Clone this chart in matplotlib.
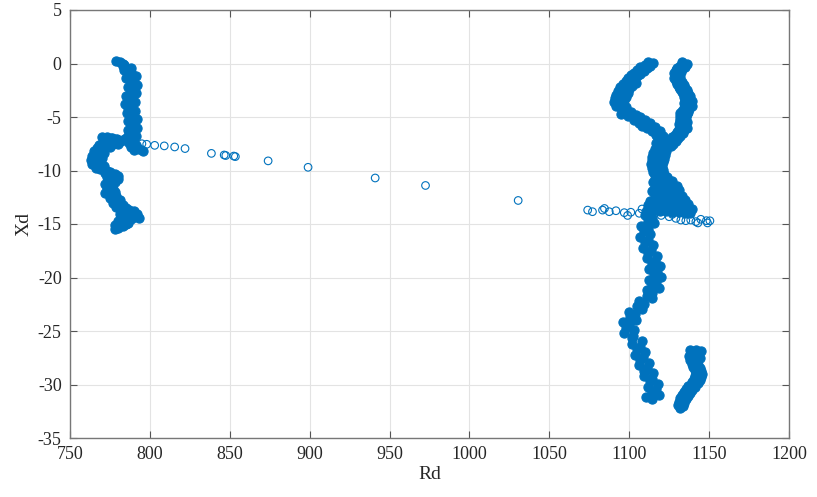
import matplotlib.pyplot as plt

plt.rcParams['font.family'] = ['Liberation Serif', 'DejaVu Serif']
plt.rcParams['axes.unicode_minus'] = False

# (Rd, Xd) samples, grouped by region of the trajectory
left_upper = [
    (779, 0.2), (781, 0.1), (783, 0.0), (784, -0.1), (783, -0.2), (788, -0.4),
    (783.5, -0.6), (788, -0.8), (787, -1.0), (791, -1.2), (785.3, -1.4),
    (789.5, -1.6), (788, -1.8), (792, -2.0), (786, -2.2), (790, -2.4),
    (788, -2.6), (791, -2.8), (785, -3.0), (789, -3.2), (787, -3.4),
    (790.5, -3.6), (784.5, -3.8), (788, -4.0), (786.5, -4.2), (790.5, -4.4),
    (785.5, -4.6), (789.5, -4.8), (788, -5.0), (792, -5.2), (786, -5.4),
    (790, -5.6), (788, -5.8), (792, -6.0), (786, -6.2), (790, -6.4),
    (787, -6.6), (791, -6.8), (785, -7.0), (789, -7.2), (787, -7.4),
    (791, -7.6), (788, -7.8), (793, -8.0), (790, -8.1), (796, -8.2),
]

left_lower = [
    (770, -6.9), (773, -6.9), (776, -7.0), (779, -7.1), (782, -7.2),
    (771, -7.3), (774, -7.4), (777, -7.5), (780, -7.5), (768, -7.6),
    (772, -7.7), (775, -7.8), (767, -7.9), (770, -8.0), (765, -8.2),
    (768, -8.3), (771, -8.4), (764, -8.6), (767, -8.7), (770, -8.8),
    (763, -9.0), (766, -9.1), (769, -9.2), (764, -9.4), (767, -9.5),
    (771, -9.6), (766, -9.8), (769, -9.9), (773, -10.0), (775, -10.1),
    (772, -10.2), (778, -10.3), (776, -10.5), (780, -10.5), (773, -10.6),
    (777, -10.7), (780, -10.8), (775, -11.0), (778, -11.1), (772, -11.3),
    (776, -11.4), (773, -11.6), (777, -11.7), (774, -11.9), (778, -12.0),
    (772, -12.1), (776, -12.3), (779, -12.4), (775, -12.6), (778, -12.7),
    (781, -12.8), (777, -13.0), (780, -13.1), (783, -13.2), (779, -13.4),
    (782, -13.5), (785, -13.5), (787, -13.7), (790, -13.8), (784, -13.9),
    (788, -14.0), (792, -14.1), (781, -14.1), (786, -14.2), (790, -14.3),
    (793, -14.4), (783, -14.4), (788, -14.5), (780, -14.7), (784, -14.7),
    (786, -14.9), (781, -15.0), (778, -15.1), (783, -15.2), (780, -15.4),
    (785, -15.0), (778, -15.5),
]

bridge = [
    (776, -6.95), (780, -7.05), (783.5, -7.1), (787, -7.2), (790.5, -7.3),
    (795, -7.5), (798, -7.55), (803, -7.65), (809, -7.7), (815.5, -7.8),
    (822, -7.95), (838.5, -8.4), (846.5, -8.55), (847.5, -8.6),
    (852.5, -8.65), (853.5, -8.7), (874, -9.1), (899, -9.7), (941, -10.7),
    (972.5, -11.4), (1030.5, -12.8), (1074, -13.7),
]

right_v_left = [
    (1112, 0.15), (1115, 0.05), (1110, -0.1), (1113, -0.25), (1107, -0.35),
    (1111, -0.45), (1105, -0.6), (1109, -0.7), (1103, -0.85), (1107, -0.95),
    (1101, -1.1), (1105, -1.2), (1099, -1.35), (1103, -1.45), (1098, -1.6),
    (1101, -1.7), (1104, -1.8), (1096, -1.9), (1099.5, -2.0), (1102, -2.1),
    (1094, -2.2), (1097, -2.3), (1100, -2.4), (1093, -2.55), (1096, -2.65),
    (1099, -2.75), (1092, -2.9), (1095, -3.0), (1098, -3.1), (1091, -3.25),
    (1094, -3.35), (1097, -3.45), (1090.5, -3.6), (1093, -3.7), (1096, -3.8),
    (1091.5, -3.95), (1094.5, -4.05), (1098, -4.1), (1095, -4.7),
    (1097, -4.2), (1099, -4.9), (1101, -4.5), (1103, -5.3), (1104, -4.8),
    (1106, -5.6), (1107, -5.0), (1108, -5.8), (1110, -5.3), (1111, -6.0),
    (1113, -5.6), (1114, -6.3), (1116, -5.9), (1116.5, -6.7), (1119, -6.3),
    (1118, -7.0), (1121, -6.8), (1117, -7.4), (1120, -7.4), (1122, -7.6),
    (1118, -7.9), (1121, -8.1),
]

right_v_right = [
    (1133, 0.1), (1136, 0.0), (1132, -0.2), (1135, -0.3), (1130, -0.4),
    (1133, -0.5), (1129, -0.65), (1132.5, -0.75), (1128, -0.9), (1131, -1.0),
    (1129, -1.15), (1132, -1.25), (1128, -1.4), (1131.5, -1.5),
    (1129.5, -1.65), (1133, -1.75), (1130, -1.9), (1134, -2.0),
    (1131, -2.15), (1135, -2.25), (1132, -2.4), (1136, -2.5), (1133, -2.65),
    (1137, -2.75), (1134, -2.9), (1138, -3.0), (1134, -3.15),
    (1137.5, -3.25), (1135, -3.4), (1139, -3.5), (1134.5, -3.65),
    (1138, -3.75), (1135, -3.9), (1139, -4.0), (1134, -4.15),
    (1137.5, -4.25), (1133, -4.4), (1137, -4.5), (1132, -4.65),
    (1136, -4.75), (1132, -4.9), (1135.5, -5.0), (1131.5, -5.15),
    (1135, -5.25), (1132, -5.4), (1136, -5.5), (1131, -5.65), (1135, -5.75),
    (1132, -5.9), (1136, -6.0), (1131, -6.15), (1134.5, -6.25), (1130, -6.4),
    (1133.5, -6.5), (1128.5, -6.65), (1132, -6.75), (1127, -6.9),
    (1130.5, -7.0), (1126, -7.15), (1129, -7.25), (1124.5, -7.4),
    (1127.5, -7.5), (1123, -7.65), (1126, -7.75),
]

right_middle = [
    (1116, -8.0), (1120, -8.1), (1123, -8.2), (1115, -8.35), (1119, -8.45),
    (1122.5, -8.55), (1114.5, -8.7), (1118, -8.8), (1122, -8.9),
    (1114, -9.05), (1117.5, -9.15), (1121, -9.25), (1113.5, -9.4),
    (1117, -9.5), (1120.5, -9.6), (1114, -9.75), (1117.5, -9.85),
    (1121, -9.95), (1115, -10.1), (1118.5, -10.2), (1122, -10.3),
    (1116, -10.45), (1120, -10.55), (1123.5, -10.65),
    (1116, -10.8), (1120, -10.85), (1124, -10.9), (1127, -11.0),
    (1115, -11.1), (1119, -11.2), (1123, -11.25), (1127, -11.35),
    (1130, -11.45), (1116, -11.55), (1120, -11.6), (1124, -11.7),
    (1128, -11.75), (1131, -11.85), (1114.5, -11.95), (1118, -12.0),
    (1122, -12.1), (1126, -12.15), (1130, -12.25), (1133, -12.35),
    (1116, -12.45), (1120, -12.5), (1124, -12.55), (1128, -12.6),
    (1132, -12.7), (1135, -12.75),
    (1113, -12.85), (1117, -12.9), (1121, -12.95), (1125, -13.0),
    (1129, -13.05), (1133, -13.1), (1137, -13.15), (1112, -13.25),
    (1116, -13.3), (1120, -13.35), (1124, -13.4), (1128, -13.45),
    (1132, -13.5), (1136, -13.55), (1139, -13.6), (1111, -13.7),
    (1115, -13.75), (1119, -13.8), (1123, -13.8), (1127, -13.85),
    (1131, -13.9), (1135, -13.95), (1138, -14.0),
]

right_tails = [
    (1077, -13.85), (1083.3, -13.7), (1084.5, -13.55), (1087.5, -13.85),
    (1091.7, -13.76), (1096.9, -13.94), (1099, -14.2), (1101, -13.9),
    (1106.3, -14.0), (1108, -13.6), (1110.4, -13.85),
    (1120, -14.2), (1125, -14.32), (1127, -14.1), (1129.2, -14.47),
    (1132.3, -14.63), (1135.4, -14.69), (1138.5, -14.63), (1141.7, -14.78),
    (1143, -14.9), (1144.8, -14.56), (1148.3, -14.69), (1149, -14.9),
    (1150.5, -14.7),
]

right_lower = [
    (1110, -14.2), (1114, -14.45), (1111.5, -14.7), (1115.5, -14.95),
    (1107.5, -15.2), (1111.5, -15.45), (1109, -15.7), (1113, -15.95),
    (1106.5, -16.2), (1111.5, -16.45), (1110, -16.7), (1115, -16.95),
    (1108.5, -17.2), (1113.5, -17.45), (1112, -17.7), (1117.5, -17.95),
    (1111, -18.2), (1116, -18.45), (1114.5, -18.7), (1119.5, -18.95),
    (1112.5, -19.2), (1117.5, -19.45), (1115.5, -19.7), (1120, -19.95),
    (1112.5, -20.2), (1117, -20.45), (1114.5, -20.7), (1118.5, -20.95),
    (1111, -21.2), (1114.5, -21.45), (1111, -21.7), (1114.5, -21.95),
    (1106, -22.2), (1109, -22.45), (1105, -22.7), (1108, -22.95),
    (1100, -23.2), (1103.5, -23.45), (1100.5, -23.7), (1104, -23.95),
    (1096, -24.2), (1100, -24.45), (1098, -24.7), (1103, -24.95),
    (1096.5, -25.2), (1102.5, -25.45), (1102, -25.7), (1108, -25.95),
    (1101.5, -26.2), (1106.5, -26.45), (1105, -26.7), (1110, -26.95),
    (1103.5, -27.2), (1108.5, -27.45), (1107, -27.7), (1112.5, -27.95),
    (1106, -28.2), (1111, -28.45), (1109.5, -28.7), (1115, -28.95),
    (1109, -29.2), (1114, -29.45), (1113, -29.7), (1118, -29.95),
    (1111.5, -30.2), (1116.5, -30.45), (1114.5, -30.7), (1118.5, -30.95),
    (1110.5, -31.2), (1114.5, -31.4),
]

right_small = [
    (1138, -26.75), (1142, -26.8), (1145, -26.85), (1139, -27.05),
    (1143, -27.15), (1137.5, -27.35), (1141, -27.45), (1144, -27.55),
    (1138, -27.75), (1142, -27.85), (1139, -28.05), (1143, -28.15),
    (1140, -28.35), (1144, -28.45), (1141, -28.6), (1145, -28.7),
    (1141.5, -28.9), (1145.5, -29.0), (1141, -29.2), (1145, -29.3),
    (1140.5, -29.5), (1144.5, -29.6), (1139, -29.8), (1143, -29.9),
    (1137, -30.1), (1141, -30.2), (1135.5, -30.4), (1139.5, -30.5),
    (1134, -30.7), (1138, -30.8), (1133, -31.0), (1136.5, -31.1),
    (1132, -31.3), (1135.5, -31.4), (1131, -31.6), (1134.5, -31.7),
    (1130.5, -31.9), (1133.5, -32.0), (1131.5, -32.15),
]

x_ticks = list(range(750, 1201, 50))
y_ticks = list(range(-35, 6, 5))

blue = '#0072BD'

# where the samples pile up the circles merge into a solid band
dense = (left_upper + left_lower + right_v_left + right_v_right
         + right_middle + right_lower + right_small)
sparse = bridge + right_tails

fig = plt.figure(figsize=(8.17, 4.97), dpi=100)
ax = fig.add_axes([70 / 817, 1 - 438 / 497, 719 / 817, 428 / 497])

ax.scatter([p[0] for p in dense], [p[1] for p in dense], s=44,
           facecolors=blue, edgecolors=blue, linewidths=0.8, zorder=3)
ax.scatter([p[0] for p in sparse], [p[1] for p in sparse], s=30,
           facecolors='none', edgecolors=blue, linewidths=0.8, zorder=4)

ax.set_xlim(750, 1200)
ax.set_ylim(-35, 5)
ax.set_xticks(x_ticks)
ax.set_yticks(y_ticks)
ax.grid(True, color='#e3e3e3', linewidth=0.8)
ax.set_axisbelow(True)
ax.tick_params(direction='in', length=5, width=0.8, color='#555555',
               labelsize=13, labelcolor='#262626', pad=6,
               top=True, right=True)
for s in ax.spines.values():
    s.set_color('#777777')
    s.set_linewidth(1.0)

ax.set_xlabel('Rd', fontsize=14, color='#262626', labelpad=2)
ax.set_ylabel('Xd', fontsize=14, color='#262626', labelpad=4)

fig.savefig('out.png', dpi=100)
